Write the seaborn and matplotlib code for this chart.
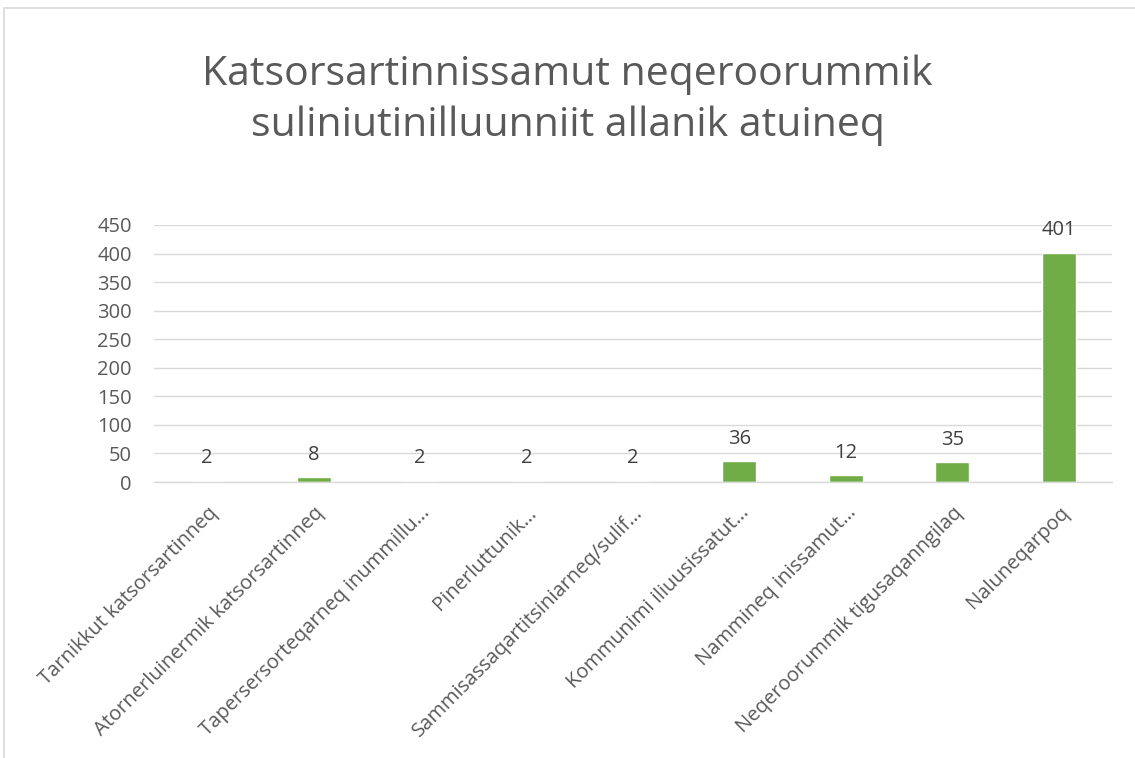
import matplotlib
matplotlib.use("Agg")
import matplotlib.pyplot as plt
import seaborn as sns
import pandas as pd
from matplotlib.patches import Rectangle

categories = [
    "Tarnikkut katsorsartinneq",
    "Atornerluinermik katsorsartinneq",
    "Tapersersorteqarneq inummillu…",
    "Pinerluttunik…",
    "Sammisassaqartitsiniarneq/sulif…",
    "Kommunimi iliuusissatut…",
    "Nammineq inissamut…",
    "Neqeroorummik tigusaqanngilaq",
    "Naluneqarpoq",
]
values = [2, 8, 2, 2, 2, 36, 12, 35, 401]
title = "Katsorsartinnissamut neqeroorummik\nsuliniutinilluunniit allanik atuineq"
yticks = [0, 50, 100, 150, 200, 250, 300, 350, 400, 450]

sns.set_theme(style="white")
plt.rcParams['font.family'] = ['Open Sans', 'DejaVu Sans']

df = pd.DataFrame({"cat": categories, "val": values})

fig = plt.figure(figsize=(11.35, 7.58), dpi=100)
ax = fig.add_axes([154/1135, 1 - 482/758, (1112 - 154)/1135, (482 - 225)/758])
sns.barplot(data=df, x="cat", y="val", color="#70AD47", saturation=1, width=0.32, ax=ax)

ax.set_ylim(0, 450)
ax.set_xlim(-0.5, len(categories) - 0.5)
ax.set_yticks(yticks)
ax.set_yticklabels([str(t) for t in yticks], fontsize=14.5, color="#595959")
ax.yaxis.grid(True, color="#D9D9D9", linewidth=1)
ax.set_axisbelow(True)
for s in ["left", "right", "top"]:
    ax.spines[s].set_visible(False)
ax.spines["bottom"].set_color("#D9D9D9")
ax.spines["bottom"].set_linewidth(1)
ax.tick_params(axis="both", length=0)
ax.tick_params(axis="y", pad=16)
ax.set_xlabel("")
ax.set_ylabel("")
ax.set_xticks(range(len(categories)))
ax.set_xticklabels(categories, rotation=45, ha="right", rotation_mode="anchor",
                   fontsize=14.5, color="#595959")
ax.tick_params(axis="x", pad=15)

for container in ax.containers:
    ax.bar_label(container, fontsize=14.5, color="#404040", padding=9)

fig.text(0.5, 0.868, title, ha="center", va="center", fontsize=29.5, color="#595959",
         linespacing=1.35)

fig.patches.append(Rectangle((4/1135, -0.1), 1.2, (758 - 8)/758 + 0.1, transform=fig.transFigure,
                             fill=False, edgecolor="#D9D9D9", linewidth=1.2))

fig.savefig("out.png", dpi=100)
